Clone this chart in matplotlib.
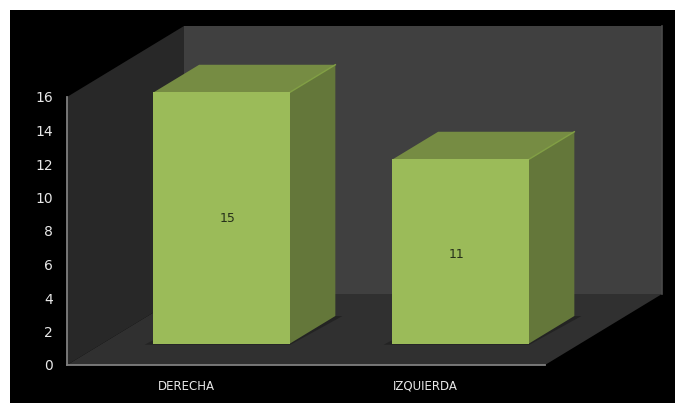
import matplotlib
matplotlib.use('Agg')
import matplotlib.pyplot as plt
from matplotlib.patches import Polygon, Rectangle

# Values
categories = ['DERECHA', 'IZQUIERDA']
values = [15, 11]
y_ticks = [0, 2, 4, 6, 8, 10, 12, 14, 16]

W, H = 675, 403

# Fake 3D: one unit of depth moves this much in axis units
DEPTH_X = 117 / 239
DEPTH_Y = 71 / (268 / 16)
BAR_WIDTH = 0.57
DEPTH_FRONT = 0.30
DEPTH_BACK = 0.69


def project(x, y, d):
    """Data position (x, y) at depth d, 0 is the front of the chart and 1 the back."""
    return (x + d * DEPTH_X, y + d * DEPTH_Y)


fig = plt.figure(figsize=(W / 100, H / 100), dpi=100, facecolor='white')
# black panel goes behind the axes
fig.patches.append(Rectangle((10 / W, 0), 1, 1 - 10 / H, transform=fig.transFigure,
                             facecolor='black', edgecolor='none', zorder=-1))

ax = fig.add_axes([67 / W, (H - 365) / H, 478 / W, 268 / H])
ax.set_xlim(0, 2)
ax.set_ylim(0, 16)
ax.patch.set_visible(False)


def face(points, color, z, alpha=None):
    ax.add_patch(Polygon(points, closed=True, facecolor=color, edgecolor='none',
                         alpha=alpha, zorder=z, clip_on=False))


# Walls and floor
face([project(0, 0, 1), project(2, 0, 1), project(2, 16, 1), project(0, 16, 1)], '#404040', 1)
face([project(0, 0, 0), project(0, 0, 1), project(0, 16, 1), project(0, 16, 0)], '#282828', 1.1)
face([project(0, 0, 0), project(2, 0, 0), project(2, 0, 1), project(0, 0, 1)], '#303030', 1.2)
ax.plot([project(2, 0, 1)[0]] * 2, [project(2, 0, 1)[1], project(2, 16, 1)[1]],
        color='#4a4a4a', lw=1.2, zorder=1.3, clip_on=False)

# Bars
for i, val in enumerate(values):
    x0 = i + 0.5 - BAR_WIDTH / 2
    x1 = i + 0.5 + BAR_WIDTH / 2
    # thin shadow on the floor, only just wider than the bar
    face([project(x0 - 0.03, 0, DEPTH_FRONT - 0.015), project(x1 + 0.01, 0, DEPTH_FRONT - 0.015),
          project(x1 + 0.03, 0, DEPTH_BACK), project(x0, 0, DEPTH_BACK)],
         '#232323', 2)
    face([project(x1, 0, DEPTH_FRONT), project(x1, 0, DEPTH_BACK),
          project(x1, val, DEPTH_BACK), project(x1, val, DEPTH_FRONT)], '#64773A', 3)
    face([project(x0, val, DEPTH_FRONT), project(x1, val, DEPTH_FRONT),
          project(x1, val, DEPTH_BACK), project(x0, val, DEPTH_BACK)], '#768C43', 3)
    ax.plot(*zip(project(x1, val, DEPTH_FRONT), project(x1, val, DEPTH_BACK)),
            color='#82A045', lw=1, zorder=3.2, clip_on=False)
    fx, fy = project(i + 0.5, 0, DEPTH_FRONT)
    ax.bar(fx, val, width=BAR_WIDTH, bottom=fy, color='#9BBB59', zorder=4, clip_on=False)

# Data labels sit a little off the bar centre in the original
label_offsets = [(4, 0), (-3, -2)]
for i, val in enumerate(values):
    fx, fy = project(i + 0.5, 0, DEPTH_FRONT)
    ax.annotate(str(val), (fx, fy + val / 2), xytext=label_offsets[i], textcoords='offset points',
                ha='center', va='center', fontsize=9, color='#26301a', zorder=5,
                annotation_clip=False)

ax.set_xticks([i + 0.5 for i in range(len(categories))], categories)
ax.set_yticks(y_ticks)
ax.tick_params(axis='x', length=0, pad=10.5, labelsize=8.5, labelcolor='#e8e8e8')
ax.tick_params(axis='y', length=0, pad=10, labelsize=10, labelcolor='#e8e8e8')

for side in ['top', 'right']:
    ax.spines[side].set_visible(False)
for side in ['left', 'bottom']:
    ax.spines[side].set_color('#7f7f7f')
    ax.spines[side].set_linewidth(1.3)
    ax.spines[side].set_zorder(6)

fig.savefig('out.png', dpi=100)
